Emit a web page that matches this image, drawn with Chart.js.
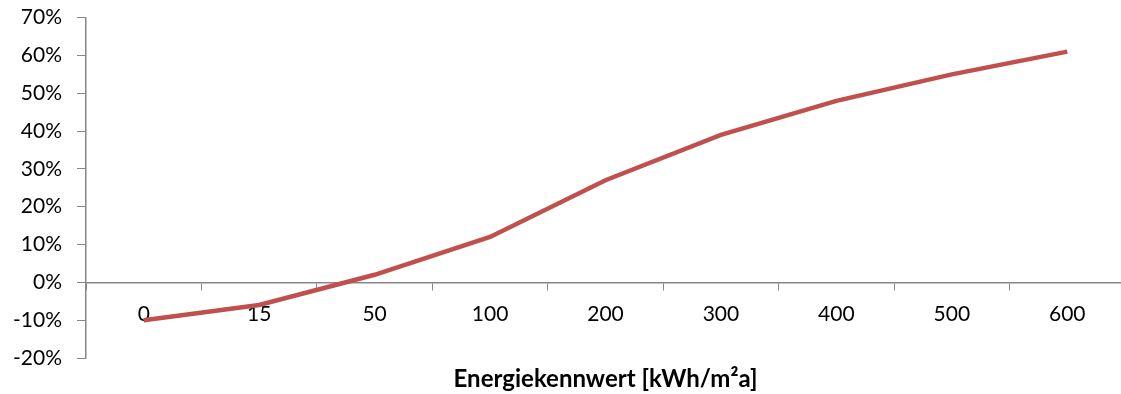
<!DOCTYPE html>
<html>
<head>
<meta charset="utf-8">
<script src="https://cdn.jsdelivr.net/npm/chart.js@4/dist/chart.umd.min.js"></script>
<style>
  html, body { margin: 0; padding: 0; background: #fff; overflow: hidden; }
  #wrap { width: 1125px; height: 404px; position: relative; margin-top: -10px; }
</style>
</head>
<body>
<div id="wrap"><canvas id="c"></canvas></div>
<script>
// Energy index categories (x axis) and change in percent (y axis)
const categories = ['0', '15', '50', '100', '200', '300', '400', '500', '600'];
const changePercent = [-10, -6, 2, 12, 27, 39, 48, 55, 61];
const yMin = -20, yMax = 70, yStep = 10;
const axisTitle = 'Energiekennwert [kWh/m²a]';

const axisGray = '#878787';
const fontFamily = 'Lato, "Open Sans", sans-serif';

new Chart(document.getElementById('c'), {
  type: 'line',
  data: {
    labels: categories,
    datasets: [{
      data: changePercent,
      borderColor: '#C0504D',
      borderWidth: 4.5,
      pointRadius: 0,
      tension: 0,
      fill: false
    }]
  },
  options: {
    responsive: true,
    maintainAspectRatio: false,
    animation: false,
    layout: { padding: { top: 9, right: 0, left: 0, bottom: 0 } },
    plugins: {
      legend: { display: false },
      tooltip: { enabled: false },
      title: {
        display: true,
        text: axisTitle,
        position: 'bottom',
        fullSize: false,
        color: '#000',
        font: { family: fontFamily, size: 24, weight: 'bold', lineHeight: 1.1 },
        padding: { top: 8, bottom: 1.6 }
      }
    },
    scales: {
      x: {
        position: { y: 0 },
        offset: true,
        grid: {
          offset: true,
          drawOnChartArea: false,
          drawTicks: true,
          tickLength: 7,
          color: axisGray
        },
        border: { display: true, color: axisGray, width: 1.5 },
        ticks: {
          color: '#000',
          font: { family: fontFamily, size: 21 },
          padding: 12,
          maxRotation: 0,
          autoSkip: false
        }
      },
      y: {
        min: yMin,
        max: yMax,
        afterFit: (s) => { s.width = 86; },
        grid: {
          drawOnChartArea: false,
          drawTicks: true,
          tickLength: 9,
          color: axisGray
        },
        border: { display: true, color: axisGray, width: 1.5 },
        ticks: {
          stepSize: yStep,
          color: '#000',
          font: { family: fontFamily, size: 21 },
          padding: 15,
          callback: (v) => v + '%'
        }
      }
    }
  }
});
</script>
</body>
</html>
